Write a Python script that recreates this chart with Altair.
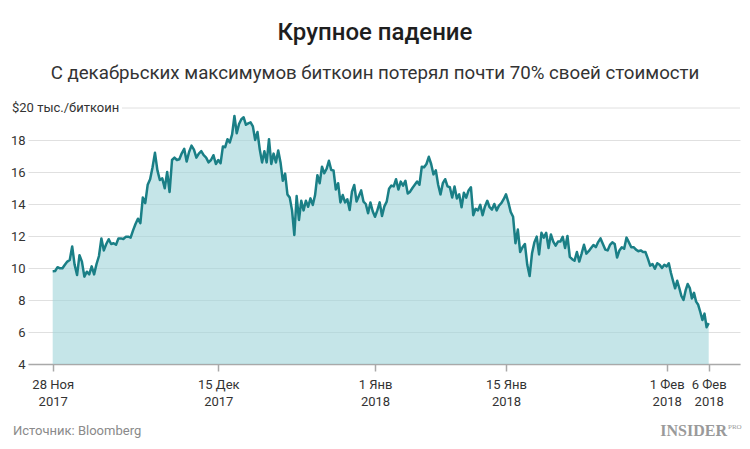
import altair as alt
import pandas as pd

TITLE = "Крупное падение"
SUBTITLE = "С декабрьских максимумов биткоин потерял почти 70% своей стоимости"
SOURCE = "Источник: Bloomberg"
Y_UNIT_LABEL = "$20 тыс./биткоин"

# Bitcoin price, thousand USD, one reading every 6 hours
price_nov28_dec15 = [
    9.8, 9.81, 10.05, 9.98, 9.98, 10.2, 10.4, 10.5, 11.35, 10.2,
    9.56, 10.8, 10.4, 9.46, 9.77, 9.6, 10.1, 9.6, 10.25, 10.75,
    11.85, 11.1, 11.5, 11.8, 11.5, 11.55, 11.45, 11.85, 11.85, 11.81,
    11.95, 11.96, 11.9, 12.35, 12.75, 13.08, 12.8, 14.4, 14.05, 15.2,
    15.55, 16.3, 17.2, 16.1, 15.5, 15.6, 14.98, 16.0, 14.75, 16.75,
    16.9, 16.75, 16.8, 17.17, 17.45, 16.65, 17.25, 17.65, 17.4, 16.9,
    17.15, 17.3, 17.05, 16.9, 16.6, 16.75, 17.05, 16.5, 16.75,
]
price_dec15_jan1 = [
    16.55, 17.6, 17.55, 18.05, 17.85, 18.35, 19.5, 18.42, 19.0, 19.3,
    19.42, 18.95, 19.04, 19.1, 18.85, 18.0, 18.5, 17.4, 16.6, 17.3,
    16.6, 18.05, 16.5, 17.15, 16.6, 17.35, 16.6, 15.45, 15.9, 14.6,
    14.4, 13.6, 12.06, 14.5, 13.0, 14.2, 13.6, 14.2, 13.83, 14.35,
    13.94, 14.56, 15.8, 15.3, 16.33, 15.92, 16.2, 16.7, 16.13, 16.1,
    14.9, 15.3, 14.1, 14.56, 14.1, 14.3, 13.62, 14.77, 15.19, 14.15,
    14.5, 14.85, 14.15, 14.0, 13.42, 14.1, 13.55, 13.2,
]
price_jan1_jan15 = [
    13.6, 14.1, 13.25, 13.85, 14.15, 14.95, 15.15, 15.1, 15.55, 14.9,
    15.4, 15.15, 15.45, 14.65, 14.77, 15.0, 15.2, 15.4, 15.2, 16.33,
    16.3, 16.5, 16.95, 16.5, 15.85, 16.1, 15.2, 14.6, 15.3, 15.55,
    15.1, 15.05, 14.4, 15.1, 14.35, 14.6, 13.8, 14.7, 14.4, 14.85,
    15.05, 13.3, 13.7, 13.6, 13.95, 13.3, 13.85, 14.2, 13.8, 13.65,
    14.0, 13.6, 13.9, 14.05, 14.3, 14.6,
]
price_jan15_feb1 = [
    14.1, 13.5, 13.2, 11.55, 12.4, 11.0, 11.3, 11.5, 10.2, 9.5,
    10.9, 11.6, 11.96, 10.85, 12.2, 11.9, 12.2, 11.25, 12.1, 11.65,
    11.4, 11.65, 11.65, 11.95, 11.25, 12.0, 10.7, 10.55, 10.45, 11.0,
    10.4, 10.9, 11.45, 10.9, 11.05, 11.25, 11.44, 11.3, 11.62, 11.85,
    11.5, 11.15, 11.1, 11.44, 11.6, 11.5, 10.65, 11.1, 11.3, 11.2,
    11.9, 11.6, 11.3, 11.3, 11.15, 11.05, 11.1, 11.0, 11.0, 10.6,
    10.15, 10.25, 9.95, 10.3, 10.2, 10.0, 10.2, 10.1,
]
price_feb1_feb6 = [
    10.3, 9.7, 9.2, 8.73, 9.2, 8.75, 8.25, 8.0, 8.6, 9.0,
    8.75, 8.1, 8.45, 7.9, 7.7, 7.25, 6.75, 7.15, 6.3, 6.55,
]

tick_dates = ["2017-11-28", "2017-12-15", "2018-01-01", "2018-01-15", "2018-02-01", "2018-02-06"]
y_ticks = [4, 6, 8, 10, 12, 14, 16, 18]
month_names = ["Янв", "Фев", "Мар", "Апр", "Май", "Июн", "Июл", "Авг", "Сен", "Окт", "Ноя", "Дек"]

price = price_nov28_dec15 + price_dec15_jan1 + price_jan1_jan15 + price_jan15_feb1 + price_feb1_feb6
dates = pd.date_range("2017-11-28 00:00", "2018-02-06 00:00", freq="6h")
n = min(len(dates), len(price))
df = pd.DataFrame({"date": dates[:n].strftime("%Y-%m-%dT%H:%M:%SZ"), "price": price[:n]})


def ms(s):
    return int(pd.Timestamp(s, tz="UTC").value // 10**6)


# the reference's date axis is not evenly spaced: pin each labelled date to its place
x_domain = [ms("2017-11-25 12:00")] + [ms(s) for s in tick_dates] + [ms("2018-02-09 08:00")]
x_range = [0, 24.7, 190.3, 347, 478, 638.7, 680.7, 712]

FONT = "Roboto"
LINE = "#1a7f86"
month_js = "[" + ",".join("'" + m + "'" for m in month_names) + "]"

x_enc = alt.X(
    "t:Q",
    scale=alt.Scale(domain=x_domain, range=x_range, nice=False, zero=False),
    axis=alt.Axis(
        values=[ms(s) for s in tick_dates],
        labelExpr="[utcdate(datum.value) + ' ' + " + month_js + "[utcmonth(datum.value)], '' + utcyear(datum.value)]",
        title=None,
        grid=False,
        domainColor="#a9a9a9",
        domainWidth=1.5,
        tickColor="#a9a9a9",
        tickWidth=1.5,
        tickSize=7,
        labelFont=FONT,
        labelFontSize=13,
        labelColor="#333333",
        labelLineHeight=17,
        labelPadding=7,
        labelFlush=False,
        labelOverlap=False,
    ),
)
y_enc = alt.Y(
    "price:Q",
    scale=alt.Scale(domain=[4, 20], zero=False, nice=False),
    axis=alt.Axis(
        values=y_ticks,
        title=None,
        grid=True,
        gridColor="#e0e0e0",
        gridWidth=1,
        domain=False,
        ticks=False,
        labelPadding=3,
        labelFont=FONT,
        labelFontSize=13,
        labelColor="#333333",
        labelOverlap=False,
    ),
)

base = alt.Chart(df).transform_calculate(t="time(toDate(datum.date))")
area = base.mark_area(color="#9ed4d9", opacity=0.6).encode(x=x_enc, y=y_enc, y2=alt.datum(4))
line = base.mark_line(color=LINE, strokeWidth=2.5, strokeJoin="round").encode(x=x_enc, y=y_enc)

one = alt.Data(values=[{"a": 1}])
# top (20) gridline starts after the unit label; 20 is the top of the plot area
top_grid = alt.Chart(one).mark_rule(color="#e0e0e0", strokeWidth=1).encode(
    y=alt.value(0), x=alt.value(94), x2=alt.value(712)
)
unit_label = alt.Chart(one).mark_text(
    text=Y_UNIT_LABEL, align="left", baseline="middle", font=FONT, fontSize=13, color="#333333"
).encode(x=alt.value(-16), y=alt.value(0))

title = alt.Chart(one).mark_text(
    text=TITLE, align="center", baseline="middle", font=FONT, fontSize=24, fontWeight=500, color="#1e1e1e"
).encode(x=alt.value(347), y=alt.value(-75))
subtitle = alt.Chart(one).mark_text(
    text=SUBTITLE, align="center", baseline="middle", font=FONT, fontSize=18.7, color="#333333"
).encode(x=alt.value(347), y=alt.value(-35))
source = alt.Chart(one).mark_text(
    text=SOURCE, align="left", baseline="middle", font=FONT, fontSize=13, color="#8a8a8a"
).encode(x=alt.value(-15), y=alt.value(323))
logo = alt.Chart(one).mark_text(
    text="INSIDER", align="right", baseline="middle", font="Liberation Serif", fontSize=16,
    fontWeight="bold", color="#9a9a9a"
).encode(x=alt.value(699), y=alt.value(323))
logo_pro = alt.Chart(one).mark_text(
    text="PRO", align="left", baseline="middle", font="Liberation Serif", fontSize=7,
    color="#9a9a9a"
).encode(x=alt.value(700), y=alt.value(319))

chart = alt.layer(
    area, top_grid, line, unit_label, title, subtitle, source, logo, logo_pro
).properties(
    width=712,
    height=256,
    padding={"left": 20, "top": 100, "right": 2, "bottom": 77},
    autosize=alt.AutoSizeParams(type="none"),
    background="white",
).configure_view(stroke=None)

chart.save("out.html", embed_options={"renderer": "svg", "actions": False})
